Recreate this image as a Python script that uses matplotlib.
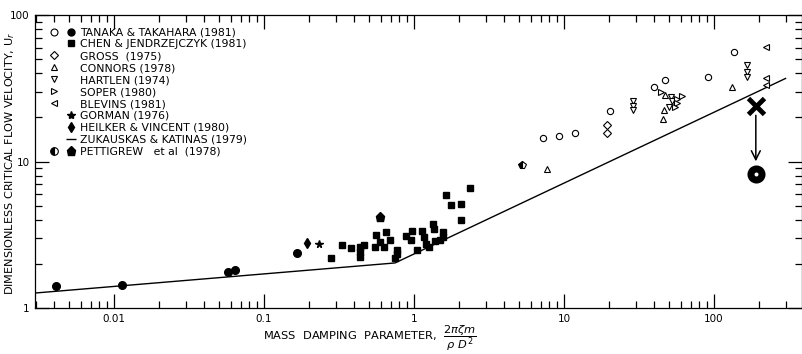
import matplotlib
matplotlib.use("Agg")
import matplotlib.pyplot as plt
from matplotlib.lines import Line2D
from matplotlib.legend_handler import HandlerTuple
from matplotlib.ticker import LogLocator, FuncFormatter, NullFormatter

# data (mass damping parameter, reduced velocity)
tanaka_open_x = [7.2, 9.3, 11.9, 20.3, 39.8, 47.1, 91.6, 136]
tanaka_open_y = [14.5, 15.0, 15.7, 22.2, 32.0, 36.0, 37.5, 56.3]
tanaka_filled_x = [0.0041, 0.0113, 0.0575, 0.064, 0.166]
tanaka_filled_y = [1.41, 1.44, 1.76, 1.81, 2.38]
chen_x = [0.278, 0.330, 0.378, 0.436, 0.436, 0.436, 0.464, 0.558, 0.55, 0.593,
          0.65, 0.63, 0.69, 0.766, 0.747, 0.766, 0.885, 0.965, 0.95, 1.04,
          1.125, 1.17, 1.2, 1.26, 1.33, 1.35, 1.38, 1.49, 1.57, 1.55,
          1.63, 1.76, 2.05, 2.05, 2.36]
chen_y = [2.21, 2.71, 2.55, 2.59, 2.42, 2.23, 2.71, 3.14, 2.61, 2.83,
          3.30, 2.61, 2.93, 2.48, 2.21, 2.35, 3.09, 3.34, 2.93, 2.48,
          3.34, 3.03, 2.75, 2.61, 3.73, 3.48, 2.87, 2.93, 3.30, 3.03,
          5.87, 5.02, 5.1, 4.01, 6.62]
gross_x = [19.2, 19.2]
gross_y = [17.8, 15.6]
connors_x = [7.74, 47.1, 46.4, 45.9, 131]
connors_y = [8.9, 28.5, 22.5, 19.5, 32.0]
hartlen_x = [29.0, 29.0, 29.0, 51.4, 52.2, 50.4, 167, 167, 167]
hartlen_y = [26.0, 24.0, 22.5, 27.4, 25.7, 23.4, 45.7, 41.1, 37.9]
soper_x = [44.1, 56.4, 60.8, 57.0, 55.0]
soper_y = [29.6, 26.7, 28.1, 24.9, 23.4]
blevins_x = [222, 222, 222]
blevins_y = [60.6, 37.1, 33.4]
gorman_x = [0.233]
gorman_y = [2.72]
heilker_x = [0.194]
heilker_y = [2.77]
pettigrew_half_x = [5.22]
pettigrew_half_y = [9.4]
pettigrew_filled_x = [0.593]
pettigrew_filled_y = [4.18]

# design curve
design_x = [0.00297, 0.747, 300]
design_y = [1.265, 2.03, 36.9]

# corrected point
shift_x = 190
u_before = 24.0
u_after = 8.2

fig = plt.figure(figsize=(8.03, 3.54), dpi=100)
ax = fig.add_axes([35 / 803, 1 - 308 / 354, 767 / 803, 293 / 354])
ax.set_xscale("log")
ax.set_yscale("log")
ax.set_xlim(0.002973, 386)
ax.set_ylim(1, 100)

k = "black"
ms = 4.5
ax.plot(design_x, design_y, color=k, lw=1.0)
ax.plot(tanaka_open_x, tanaka_open_y, "o", ms=ms, mfc="white", mec=k, mew=0.8, ls="none")
ax.plot(tanaka_filled_x, tanaka_filled_y, "o", ms=5.5, color=k, ls="none")
ax.plot(chen_x, chen_y, "s", ms=4.8, color=k, ls="none")
ax.plot(gross_x, gross_y, "D", ms=4, mfc="white", mec=k, mew=0.8, ls="none")
ax.plot(connors_x, connors_y, "^", ms=ms, mfc="white", mec=k, mew=0.8, ls="none")
ax.plot(hartlen_x, hartlen_y, "v", ms=ms, mfc="white", mec=k, mew=0.8, ls="none")
ax.plot(soper_x, soper_y, ">", ms=ms, mfc="white", mec=k, mew=0.8, ls="none")
ax.plot(blevins_x, blevins_y, "<", ms=ms, mfc="white", mec=k, mew=0.8, ls="none")
ax.plot(gorman_x, gorman_y, "*", ms=5.5, color=k, ls="none")
ax.plot(heilker_x, heilker_y, "d", ms=5, color=k, ls="none")
ax.plot(pettigrew_half_x, pettigrew_half_y, "p", ms=5.5, mfc=k, mfcalt="white",
        fillstyle="left", mec=k, mew=0.8, ls="none")
ax.plot(pettigrew_filled_x, pettigrew_filled_y, "p", ms=6.5, color=k, ls="none")

# big X, arrow and bullseye
ax.plot([shift_x], [u_before], "x", ms=11, mew=3.5, color=k)
ax.annotate("", xy=(shift_x, u_after * 1.17), xytext=(shift_x, u_before * 0.9),
            arrowprops=dict(arrowstyle="->", color=k, lw=1.1, mutation_scale=16))
ax.plot([shift_x], [u_after], "o", ms=8, mfc="white", mec=k, mew=5)

# ticks
for a in (ax.xaxis, ax.yaxis):
    a.set_major_locator(LogLocator(base=10, numticks=10))
    a.set_minor_locator(LogLocator(base=10, subs=range(2, 10), numticks=10))
    a.set_minor_formatter(NullFormatter())
    a.set_major_formatter(FuncFormatter(lambda v, p: "%g" % v))
ax.tick_params(which="both", direction="in", top=True, right=True,
               labelsize=7.5, width=0.9, pad=4)
ax.tick_params(which="major", length=10)
ax.tick_params(which="minor", length=5)
for s in ax.spines.values():
    s.set_linewidth(0.9)

fig.text(10 / 803, 1 - 163 / 354, r"DIMENSIONLESS CRITICAL FLOW VELOCITY, U$_r$",
         rotation=90, ha="center", va="center", fontsize=8.1)
fig.text(370 / 803, 1 - 338 / 354,
         r"MASS  DAMPING  PARAMETER,  $\dfrac{2\pi\zeta m}{\rho\ D^2}$",
         ha="center", va="center", fontsize=8.2)

# legend
def h(marker, size=5, filled=False, fs="full"):
    if marker is None:
        return Line2D([], [], ls="none", marker="")
    if filled:
        return Line2D([], [], ls="none", marker=marker, ms=size, color=k)
    return Line2D([], [], ls="none", marker=marker, ms=size, mfc="white",
                  mec=k, mew=0.8, fillstyle=fs)

half = Line2D([], [], ls="none", marker="o", ms=5.5, mfc=k, mfcalt="white",
              mec=k, mew=0.8, fillstyle="left")
handles = [
    (h("o"), h("o", filled=True)),
    (h(None), h("s", filled=True)),
    (h("D", 4.5), h(None)),
    (h("^"), h(None)),
    (h("v"), h(None)),
    (h(">"), h(None)),
    (h("<"), h(None)),
    (h(None), h("*", 6, filled=True)),
    (h(None), h("d", 5, filled=True)),
    (h(None), h("_", 7, filled=True)),
    (half, h("p", 6.5, filled=True)),
]
labels = [
    "TANAKA & TAKAHARA (1981)",
    "CHEN & JENDRZEJCZYK (1981)",
    "GROSS  (1975)",
    "CONNORS (1978)",
    "HARTLEN (1974)",
    "SOPER (1980)",
    "BLEVINS (1981)",
    "GORMAN (1976)",
    "HEILKER & VINCENT (1980)",
    "ZUKAUSKAS & KATINAS (1979)",
    "PETTIGREW   et al  (1978)",
]
ax.legend(handles, labels, handler_map={tuple: HandlerTuple(ndivide=None, pad=0)},
          loc="upper left", bbox_to_anchor=(0.0137, 0.958), frameon=False,
          fontsize=7.8, handlelength=3.1, handletextpad=0.12, labelspacing=0.18,
          borderpad=0, borderaxespad=0)

fig.savefig("out.png", dpi=100)
